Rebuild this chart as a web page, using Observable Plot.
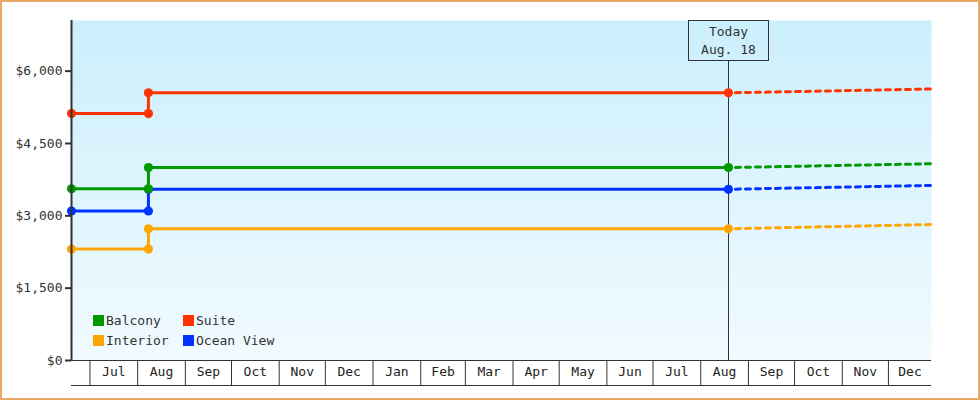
<!DOCTYPE html>
<html>
<head>
<meta charset="utf-8">
<script src="https://cdn.jsdelivr.net/npm/d3@7"></script>
<script src="https://cdn.jsdelivr.net/npm/@observablehq/plot@0.6"></script>
<style>
  body { margin: 0; background: #fff; }
  #wrap { position: relative; width: 980px; height: 400px; font-family: "DejaVu Sans Mono", monospace; }
  #wrap svg { display: block; }
  #border { position: absolute; left: 0; top: 0; width: 980px; height: 400px; box-sizing: border-box; border: 2px solid #e8aa66; pointer-events: none; }
  #legend { position: absolute; left: 93px; top: 310px; display: grid; grid-template-columns: 90px auto; grid-auto-rows: 20.5px; font-size: 13px; color: #333; }
  #legend .item { display: flex; align-items: center; }
  #legend .sw { width: 11px; height: 11px; margin-right: 2px; display: inline-block; }
</style>
</head>
<body>
<div id="wrap"><div id="border"></div></div>
<script>
// ---- data ----
const seriesNames = ["Balcony", "Suite", "Interior", "Ocean View"];
const seriesColors = ["#009900", "#ff3300", "#ffa500", "#0033ff"];
const stepDates = ["2023-06-19", "2023-08-08", "2023-08-08", "2024-08-19"];
const balcony = [3560, 3560, 4000, 4000];
const suite = [5120, 5120, 5550, 5550];
const interior = [2310, 2310, 2730, 2730];
const oceanView = [3100, 3100, 3550, 3550];
const forecastDates = ["2024-08-19", "2024-12-29"];
const balconyForecast = [4000, 4080];
const suiteForecast = [5550, 5630];
const interiorForecast = [2730, 2820];
const oceanViewForecast = [3550, 3630];
const yTicks = [0, 1500, 3000, 4500, 6000];
const monthLabels = ["Jul","Aug","Sep","Oct","Nov","Dec","Jan","Feb","Mar","Apr","May","Jun","Jul","Aug","Sep","Oct","Nov","Dec"];
const monthStarts = ["2023-07-01","2023-08-01","2023-09-01","2023-10-01","2023-11-01","2023-12-01","2024-01-01","2024-02-01","2024-03-01","2024-04-01","2024-05-01","2024-06-01","2024-07-01","2024-08-01","2024-09-01","2024-10-01","2024-11-01","2024-12-01"];
const xDomain = ["2023-06-19", "2024-12-29"];
const todayDate = "2024-08-19";
const todayLabel = ["Today", "Aug. 18"];

// ---- build tables ----
const actualVals = [balcony, suite, interior, oceanView];
const forecastVals = [balconyForecast, suiteForecast, interiorForecast, oceanViewForecast];
const actual = [], forecast = [];
seriesNames.forEach((s, i) => {
  stepDates.forEach((d, j) => actual.push({series: s, date: new Date(d), value: actualVals[i][j]}));
  forecastDates.forEach((d, j) => forecast.push({series: s, date: new Date(d), value: forecastVals[i][j]}));
});
const drawOrder = ["Ocean View", "Interior", "Suite", "Balcony"];
const xd = xDomain.map(d => new Date(d));
const starts = monthStarts.map(d => new Date(d));
const labelPos = starts.map((d, i) => {
  const a = +d;
  const b = Math.min(i + 1 < starts.length ? +starts[i + 1] : +xd[1], +xd[1]);
  return new Date((a + b) / 2);
});
const labelMap = new Map(labelPos.map((d, i) => [+d, monthLabels[i]]));
const today = new Date(todayDate);

const bgDefs = () => {
  const defs = d3.create("svg:defs");
  const g = defs.append("linearGradient").attr("id", "plotbg").attr("x1", 0).attr("y1", 0).attr("x2", 0).attr("y2", 1);
  g.append("stop").attr("offset", "0%").attr("stop-color", "#cbeffc");
  g.append("stop").attr("offset", "100%").attr("stop-color", "#f1faff");
  return defs.node();
};

const todayMark = (index, scales, values, dims) => {
  const x = Math.round(scales.x(today)) + 0.5;
  const top = dims.marginTop + 0.5;
  const bottom = dims.height - dims.marginBottom;
  const bw = 80, bh = 40;
  const g = d3.create("svg:g");
  g.append("line").attr("x1", x).attr("x2", x).attr("y1", top + bh).attr("y2", bottom).attr("stroke", "#333").attr("stroke-width", 1);
  g.append("rect").attr("x", x - bw / 2).attr("y", top).attr("width", bw).attr("height", bh)
    .attr("fill", "none").attr("stroke", "#333").attr("stroke-width", 1);
  todayLabel.forEach((t, i) => {
    g.append("text").attr("x", x).attr("y", top + 15 + i * 18).attr("text-anchor", "middle")
      .attr("fill", "#333").attr("font-size", 13).text(t);
  });
  return g.node();
};

const lineMarks = [];
drawOrder.forEach(s => {
  const c = seriesColors[seriesNames.indexOf(s)];
  lineMarks.push(Plot.line(actual.filter(d => d.series === s), {x: "date", y: "value", stroke: c, strokeWidth: 3}));
  lineMarks.push(Plot.line(forecast.filter(d => d.series === s), {x: "date", y: "value", stroke: c, strokeWidth: 3, strokeDasharray: "5,5", strokeDashoffset: 3}));
  lineMarks.push(Plot.dot(actual.filter(d => d.series === s), {x: "date", y: "value", fill: c, r: 4.6, symbol: "circle"}));
});

const chart = Plot.plot({
  width: 980,
  height: 400,
  marginLeft: 71,
  marginRight: 49,
  marginTop: 20,
  marginBottom: 40,
  style: {fontFamily: "DejaVu Sans Mono", fontSize: "13px", color: "#333", background: "transparent"},
  x: {type: "utc", domain: xd},
  y: {domain: [0, 7050]},
  marks: [
    bgDefs,
    Plot.frame({fill: "url(#plotbg)", stroke: null}),
    Plot.axisY({ticks: yTicks, tickFormat: d => "$" + d3.format(",")(d), tickSize: 6, tickPadding: 3, strokeWidth: 2, label: null, fill: "#333"}),
    Plot.axisX({ticks: starts, tickSize: 25, tickFormat: () => "", label: null}),
    Plot.axisX({ticks: labelPos, tickSize: 0, tickPadding: 6, tickFormat: d => labelMap.get(+d), label: null, fill: "#222"}),
    Plot.ruleY([0], {stroke: "#333", strokeWidth: 1}),
    Plot.ruleY([0], {stroke: "#333", strokeWidth: 1, dy: 25}),
    todayMark,
    ...lineMarks,
    Plot.ruleX([xd[0]], {stroke: "#333", strokeWidth: 2})
  ]
});
document.getElementById("wrap").prepend(chart);

// legend
const legend = document.createElement("div");
legend.id = "legend";
seriesNames.forEach((s, i) => {
  const item = document.createElement("div");
  item.className = "item";
  const sw = document.createElement("span");
  sw.className = "sw";
  sw.style.background = seriesColors[i];
  item.appendChild(sw);
  item.appendChild(document.createTextNode(s));
  legend.appendChild(item);
});
document.getElementById("wrap").appendChild(legend);
</script>
</body>
</html>
